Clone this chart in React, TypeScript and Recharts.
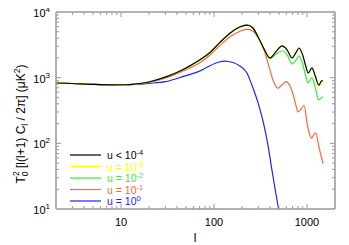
import { LineChart, Line, XAxis, YAxis, ReferenceLine, Legend } from 'recharts';

// multipole samples and band powers (µK²)
const ellBlack = [2, 3, 5, 8, 11, 14, 20, 31, 46, 70, 90, 116, 150, 190, 226, 260, 300, 350, 400, 460, 540, 610, 690, 760, 820, 900, 970, 1030, 1130, 1230, 1340, 1420, 1480];
const valBlack = [830, 815, 790, 778, 780, 795, 860, 1035, 1320, 1860, 2400, 3450, 4800, 5900, 6300, 5750, 4100, 2630, 2000, 2450, 3040, 2650, 2000, 2400, 2830, 2200, 1500, 1180, 1410, 1050, 770, 880, 900];

const valYellow = [830, 815, 790, 778, 780, 795, 860, 1035, 1320, 1860, 2400, 3450, 4800, 5900, 6300, 5750, 4100, 2630, 2000, 2450, 3040, 2650, 2000, 2400, 2830, 2200, 1500, 1180, 1400, 1030, 740, 820, 860];

const ellGreen = [2, 3, 5, 8, 11, 14, 20, 31, 46, 70, 90, 116, 150, 190, 226, 260, 300, 350, 400, 460, 550, 620, 690, 760, 820, 900, 970, 1030, 1130, 1230, 1330, 1420, 1480];
const valGreen = [830, 815, 790, 778, 780, 795, 860, 1035, 1320, 1860, 2400, 3450, 4850, 6000, 6400, 5850, 4100, 2600, 1950, 2250, 2570, 2150, 1620, 1850, 2150, 1600, 1050, 830, 1000, 700, 460, 490, 510];

const ellOrange = [2, 3, 5, 8, 11, 14, 20, 31, 46, 70, 90, 116, 150, 190, 226, 260, 300, 340, 360, 400, 440, 490, 540, 595, 700, 750, 800, 860, 930, 1000, 1060, 1120, 1180, 1240, 1350, 1490];
const valOrange = [830, 815, 790, 778, 780, 793, 850, 1000, 1250, 1690, 2200, 3100, 4250, 5100, 5500, 5150, 4000, 2800, 2200, 1300, 850, 690, 780, 870, 590, 410, 300, 330, 380, 205, 140, 120, 135, 145, 85, 49];

const ellBlue = [2, 3, 5, 8, 11, 14, 20, 30, 46, 70, 107, 130, 160, 190, 226, 260, 300, 340, 380, 420, 460, 495];
const valBlue = [830, 815, 790, 778, 780, 790, 820, 870, 1035, 1260, 1690, 1790, 1700, 1500, 1180, 720, 400, 205, 95, 39, 18, 10];

const xTicks = [3, 4, 5, 6, 7, 8, 9, 10, 20, 30, 40, 50, 60, 70, 80, 90, 100, 200, 300, 400, 500, 600, 700, 800, 900, 1000];
const xLabels = [10, 100, 1000];
const yTicks = [10, 20, 30, 40, 50, 60, 70, 80, 90, 100, 200, 300, 400, 500, 600, 700, 800, 900, 1000, 2000, 3000, 4000, 5000, 6000, 7000, 8000, 9000, 10000];
const yLabels = [10, 100, 1000, 10000];

const seriesNames = ['u < 10', 'u = 10', 'u = 10', 'u = 10', 'u = 10'];
const seriesExps = ['-4', '-3', '-2', '-1', '0'];
const seriesColors = ['#000000', '#ffff00', '#33ee33', '#ff6633', '#2222ff'];

const toPts = (ls: number[], vs: number[]) => ls.map((l, i) => ({ l, v: vs[i] }));

// plot box in page pixels (wrapper is pulled up over the body margin)
const PL = 48, PR = 327, PT = 12, PB = 209;
const AXIS = '#999999';
const FONT = 'Liberation Sans, Arial, sans-serif';

function XTick(props: any) {
  const { x, payload } = props;
  const major = xLabels.includes(payload.value);
  const len = major ? 5 : 3;
  return (
    <g>
      <line x1={x} x2={x} y1={PB} y2={PB - len} stroke={AXIS} />
      <line x1={x} x2={x} y1={PT} y2={PT + len} stroke={AXIS} />
      {major && (
        <text x={x} y={PB + 17} textAnchor="middle" fontSize={11} fontFamily={FONT} fill="#000">
          {payload.value}
        </text>
      )}
    </g>
  );
}

function YTick(props: any) {
  const { y, payload } = props;
  const major = yLabels.includes(payload.value);
  const len = major ? 5 : 3;
  const edge = payload.value === 10 || payload.value === 10000;
  return (
    <g>
      {!edge && <line x1={PL} x2={PL + len} y1={y} y2={y} stroke={AXIS} />}
      {!edge && <line x1={PR} x2={PR - len} y1={y} y2={y} stroke={AXIS} />}
      {major && (
        <text x={42} y={y + 5} textAnchor="end" fontSize={11} fontFamily={FONT} fill="#000">
          10<tspan fontSize={8} dy={-5}>{Math.round(Math.log10(payload.value))}</tspan>
        </text>
      )}
    </g>
  );
}

function LegendBox() {
  return (
    <svg width={120} height={66} style={{ display: 'block' }}>
      {seriesNames.map((name, i) => (
        <g key={i}>
          <line x1={7} x2={38} y1={7 + i * 11.5} y2={7 + i * 11.5} stroke={seriesColors[i]} strokeWidth={1.2} />
          <text x={44} y={11 + i * 11.5} fontSize={10.5} fontFamily={FONT} fill={seriesColors[i]}>
            {name}<tspan fontSize={7.5} dy={-4}>{seriesExps[i]}</tspan>
          </text>
        </g>
      ))}
    </svg>
  );
}

export default function App() {
  return (
    <div style={{ position: 'relative', width: 341, height: 245, marginTop: -8 }}>
      <LineChart width={341} height={245} margin={{ top: 12, right: 14, bottom: 6, left: 8 }}>
        <XAxis dataKey="l" type="number" scale="log" domain={[2, 2000]} ticks={xTicks} interval={0}
          allowDataOverflow tick={<XTick />} tickLine={false} tickSize={0} height={30} axisLine={{ stroke: AXIS, strokeWidth: 1.5 }} />
        <YAxis type="number" scale="log" domain={[10, 10000]} ticks={yTicks} interval={0}
          allowDataOverflow tick={<YTick />} tickLine={false} tickSize={0} width={40} axisLine={{ stroke: AXIS, strokeWidth: 1.5 }} />
        <ReferenceLine y={10000} stroke={AXIS} strokeWidth={1.5} />
        <ReferenceLine x={2000} stroke={AXIS} strokeWidth={1.5} />
        <Line data={toPts(ellBlue, valBlue)} dataKey="v" type="monotone" stroke={seriesColors[4]} strokeWidth={1.2} dot={false} isAnimationActive={false} />
        <Line data={toPts(ellOrange, valOrange)} dataKey="v" type="monotone" stroke={seriesColors[3]} strokeWidth={1.2} dot={false} isAnimationActive={false} />
        <Line data={toPts(ellGreen, valGreen)} dataKey="v" type="monotone" stroke={seriesColors[2]} strokeWidth={1.2} dot={false} isAnimationActive={false} />
        <Line data={toPts(ellBlack, valYellow)} dataKey="v" type="monotone" stroke={seriesColors[1]} strokeWidth={1.2} dot={false} isAnimationActive={false} />
        <Line data={toPts(ellBlack, valBlack)} dataKey="v" type="monotone" stroke={seriesColors[0]} strokeWidth={1.2} dot={false} isAnimationActive={false} />
        <Legend layout="vertical" align="center" verticalAlign="middle" content={() => <LegendBox />}
          wrapperStyle={{ left: 55, top: 148, width: 120, height: 66 }} />
      </LineChart>
      <svg width={341} height={245} style={{ position: 'absolute', left: 0, top: 0, pointerEvents: 'none' }}>
        <text transform="rotate(-90)" x={-124} y={17} textAnchor="middle" fontSize={12} fontFamily={FONT} fill="#000">
          T<tspan fontSize={8.5} dy={3}>0</tspan><tspan fontSize={8.5} dx={-4.7} dy={-9}>2</tspan>
          <tspan dy={6}> [l(l+1) C</tspan><tspan fontSize={8.5} dy={3}>l</tspan>
          <tspan dy={-3}> / 2π] (μK</tspan><tspan fontSize={8.5} dy={-5}>2</tspan><tspan dy={5}>)</tspan>
        </text>
        <text x={187} y={242} textAnchor="middle" fontSize={12} fontFamily={FONT} fill="#000">l</text>
      </svg>
    </div>
  );
}
